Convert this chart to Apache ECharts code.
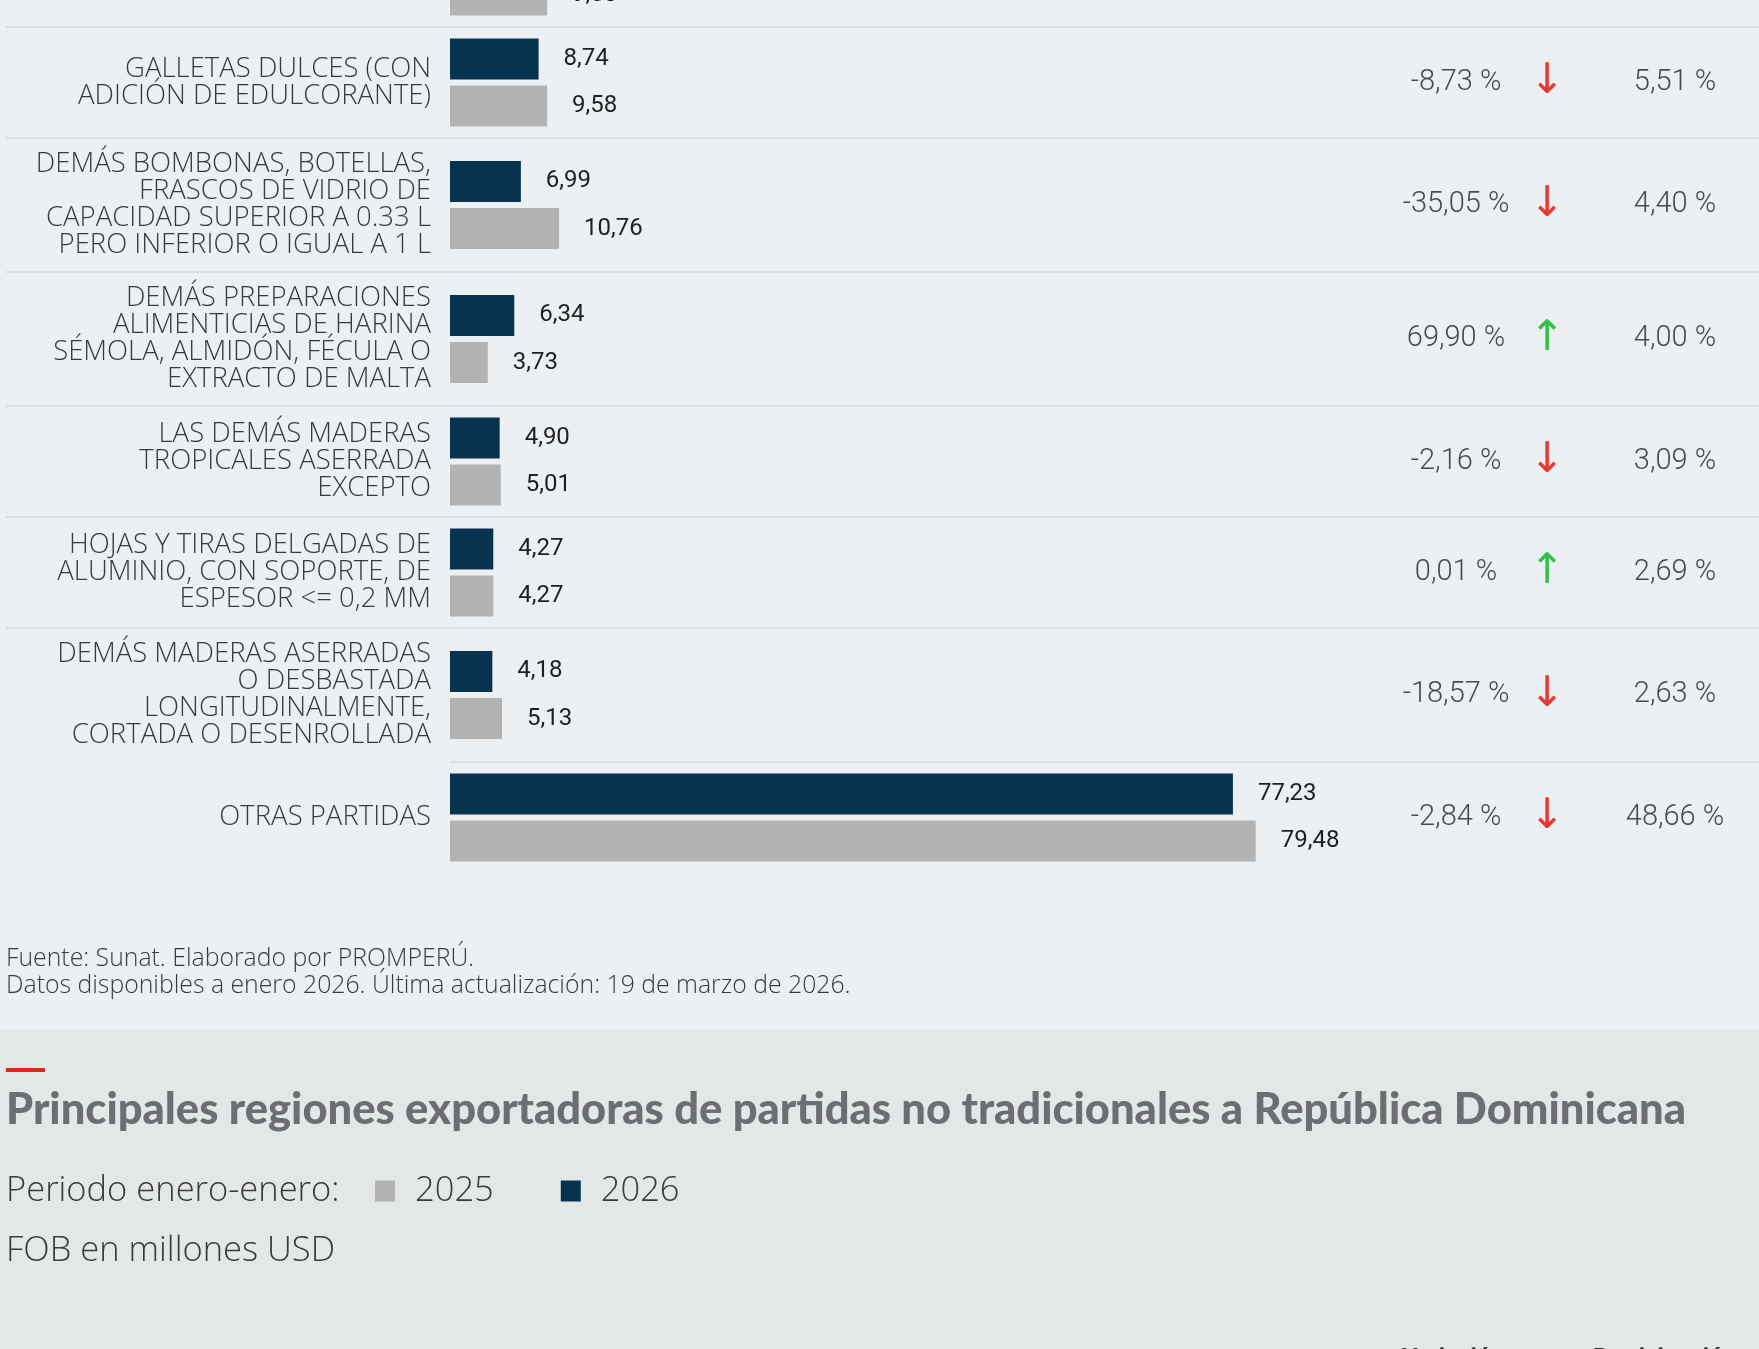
<!DOCTYPE html>
<html lang="es">

<head>
  <meta charset="UTF-8">
  <title>Principales partidas no tradicionales</title>
  <script src="https://cdn.jsdelivr.net/npm/echarts@6/dist/echarts.min.js"></script>
  <style>
    body { margin: 0; }
  </style>
</head>

<body>
  <div id="main" style="width: 1759px;height:1349px;"></div>
  <script>
    // datos (FOB en millones USD, enero-enero)
    // la primera fila está casi fuera de la vista, solo se ve la barra 2025
    var categories = [
      '',
      'GALLETAS DULCES (CON\nADICIÓN DE EDULCORANTE)',
      'DEMÁS BOMBONAS, BOTELLAS,\nFRASCOS DE VIDRIO DE\nCAPACIDAD SUPERIOR A 0.33 L\nPERO INFERIOR O IGUAL A 1 L',
      'DEMÁS PREPARACIONES\nALIMENTICIAS DE HARINA\nSÉMOLA, ALMIDÓN, FÉCULA O\nEXTRACTO DE MALTA',
      'LAS DEMÁS MADERAS\nTROPICALES ASERRADA\nEXCEPTO',
      'HOJAS Y TIRAS DELGADAS DE\nALUMINIO, CON SOPORTE, DE\nESPESOR <= 0,2 MM',
      'DEMÁS MADERAS ASERRADAS\nO DESBASTADA\nLONGITUDINALMENTE,\nCORTADA O DESENROLLADA',
      'OTRAS PARTIDAS'
    ]
    var values2026 = [null, 8.74, 6.99, 6.34, 4.90, 4.27, 4.18, 77.23]
    var values2025 = [9.58, 9.58, 10.76, 3.73, 5.01, 4.27, 5.13, 79.48]
    var variation = [null, -8.73, -35.05, 69.90, -2.16, 0.01, -18.57, -2.84]
    var share = [null, 5.51, 4.40, 4.00, 3.09, 2.69, 2.63, 48.66]

    var fmt = function (v) {
      return v.toFixed(2).replace('.', ',')
    }
    // alto de cada fila según cuántas líneas tiene la etiqueta
    var rowH = function (i) {
      return categories[i].split('\n').length >= 4 ? 134 : 111
    }

    var tops = []
    var y = 27 - rowH(0)
    for (var i = 0; i < categories.length; i++) {
      tops.push(y)
      y += rowH(i)
    }

    var grids = [], xAxes = [], yAxes = [], series = [], graphics = []
    var font = 'Roboto'
    var font2 = 'Open Sans'

    categories.forEach(function (cat, i) {
      grids.push({ left: 450, top: tops[i], width: 811, height: rowH(i), outerBoundsMode: 'none', containLabel: false })
      xAxes.push({ gridIndex: i, type: 'value', min: 0, max: 80, show: false })
      yAxes.push({
        gridIndex: i, type: 'category', data: [cat],
        axisLine: { show: false }, axisTick: { show: false },
        axisLabel: { margin: 19, fontFamily: font2, fontSize: 27.5, fontWeight: 300, lineHeight: 27, color: '#3a3a3a', align: 'right' }
      })
      yAxes.push({
        gridIndex: i, type: 'category', position: 'right', data: [cat],
        axisLine: { show: false }, axisTick: { show: false },
        axisLabel: {
          margin: 120,
          formatter: function () {
            if (variation[i] === null) return ''
            var up = variation[i] >= 0
            return '{v|' + fmt(variation[i]) + ' %}{' + (up ? 'u|↑' : 'd|↓') + '}{p|' + fmt(share[i]) + ' %}'
          },
          rich: {
            v: { width: 150, align: 'center', fontFamily: font, fontSize: 29, fontWeight: 300, color: '#4a4a4a' },
            u: { width: 32, align: 'center', fontFamily: 'DejaVu Sans', fontSize: 42, color: '#33c04a' },
            d: { width: 32, align: 'center', fontFamily: 'DejaVu Sans', fontSize: 42, color: '#e53935' },
            p: { width: 224, align: 'center', fontFamily: font, fontSize: 29, fontWeight: 300, color: '#4a4a4a' }
          }
        }
      })
      var lbl = {
        show: true, position: 'right', distance: 25,
        fontFamily: font, fontSize: 24, color: '#1f1f1f',
        formatter: function (p) { return fmt(p.value) }
      }
      // la primera serie queda arriba dentro de la banda
      series.push({
        name: '2026', type: 'bar', xAxisIndex: i, yAxisIndex: 2 * i,
        barWidth: 41, barGap: '15%', itemStyle: { color: '#07334e' },
        label: lbl, data: [values2026[i]]
      })
      series.push({
        name: '2025', type: 'bar', xAxisIndex: i, yAxisIndex: 2 * i,
        barWidth: 41, barGap: '15%', itemStyle: { color: '#b3b3b3' },
        label: lbl, data: [values2025[i]]
      })
      // línea separadora debajo de la fila
      if (i < categories.length - 1) {
        var ly = tops[i] + rowH(i)
        graphics.push({
          type: 'line', z: 0,
          shape: { x1: i === categories.length - 2 ? 450 : 6, y1: ly, x2: 1759, y2: ly },
          style: { stroke: '#dcdee0', lineWidth: 2 }
        })
      }
    })

    // fondo de la sección inferior y raya roja del título
    graphics.push({ type: 'rect', z: -10, shape: { x: 0, y: 1030, width: 1759, height: 319 }, style: { fill: '#e4e7e8' } })
    graphics.push({ type: 'rect', z: 1, shape: { x: 6, y: 1068, width: 39, height: 4 }, style: { fill: '#e1251b' } })

    var mCharts = echarts.init(document.getElementById('main'))
    var option = {
      backgroundColor: '#ecf0f3',
      animation: false,
      title: [
        {
          text: 'Fuente: Sunat. Elaborado por PROMPERÚ.\nDatos disponibles a enero 2026. Última actualización: 19 de marzo de 2026.',
          left: 1, top: 940,
          textStyle: { fontFamily: font2, fontSize: 24.8, fontWeight: 300, lineHeight: 27, color: '#3a3a3a' }
        },
        {
          text: 'Principales regiones exportadoras de partidas no tradicionales a República Dominicana',
          left: 1, top: 1080,
          textStyle: { fontFamily: 'Lato', fontSize: 43.5, lineHeight: 50, fontWeight: 900, color: '#6d6e71' }
        },
        {
          text: 'Periodo enero-enero:', left: 1, top: 1166,
          textStyle: { fontFamily: font2, fontSize: 34.5, lineHeight: 40, fontWeight: 300, color: '#3a3a3a' }
        },
        {
          text: 'FOB en millones USD', left: 1, top: 1226,
          textStyle: { fontFamily: font2, fontSize: 34.5, lineHeight: 40, fontWeight: 300, color: '#3a3a3a' }
        },
        {
          text: 'Variación', left: 1397, top: 1339,
          textStyle: { fontFamily: font, fontSize: 24, lineHeight: 30, fontWeight: 'bold', color: '#333' }
        },
        {
          text: 'Participación', left: 1588, top: 1339,
          textStyle: { fontFamily: font, fontSize: 24, lineHeight: 30, fontWeight: 'bold', color: '#333' }
        }
      ],
      legend: {
        data: ['2025', '2026'],
        left: 370, top: 1166,
        icon: 'rect', itemWidth: 20, itemHeight: 21, itemGap: 67,
        textStyle: { fontFamily: font2, fontSize: 34.5, fontWeight: 300, lineHeight: 40, color: '#3a3a3a', padding: [0, 0, 0, 15] }
      },
      grid: grids,
      xAxis: xAxes,
      yAxis: yAxes,
      series: series,
      graphic: graphics
    }
    mCharts.setOption(option)
  </script>
</body>

</html>
